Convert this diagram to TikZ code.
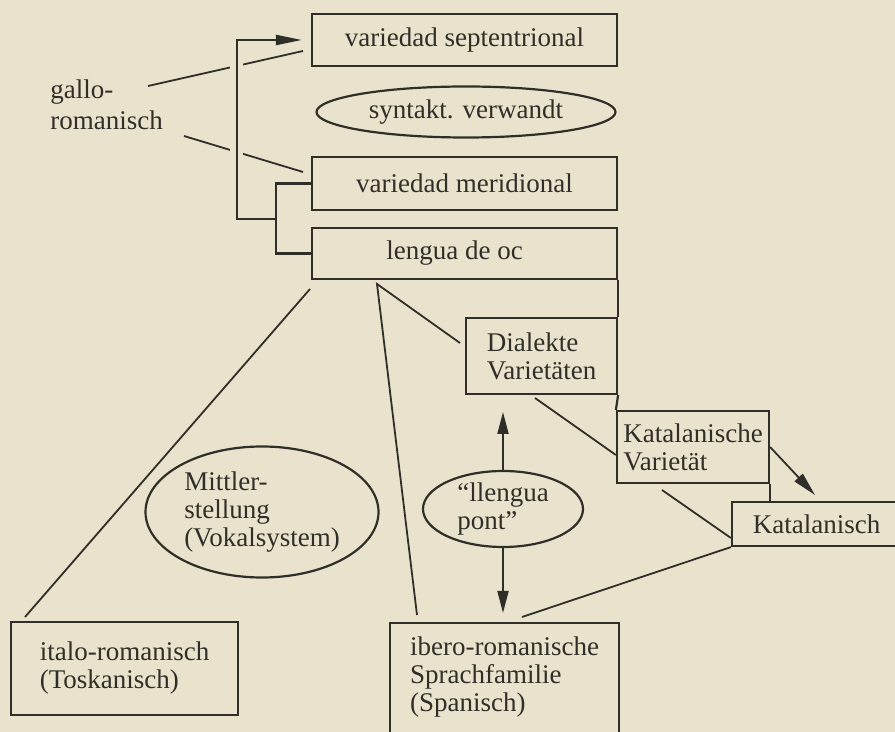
\documentclass[tikz,border=0pt]{standalone}
\usepackage{fontspec}
\setmainfont{Liberation Serif}
\usetikzlibrary{shapes.geometric,arrows.meta,calc}
\definecolor{paper}{RGB}{233,227,205}
\definecolor{ink}{RGB}{48,46,40}
\begin{document}
\begin{tikzpicture}[x=0.5pt,y=-0.5pt,
  font=\fontsize{13.5}{14}\selectfont,
  box/.style={draw=ink, line width=1.1pt, rectangle, inner sep=0pt, text=ink, align=left},
  oval/.style={draw=ink, line width=1.1pt, ellipse, inner sep=0pt, text=ink, align=left},
  conn/.style={draw=ink, line width=0.9pt},
  frame/.style={draw=ink, line width=1.1pt},
  arrtop/.style={frame, -{Triangle[length=13pt,width=5pt]}},
  arrv/.style={conn, -{Triangle[length=11pt,width=5.5pt]}},
  arrk/.style={conn, -{Triangle[length=12pt,width=5.5pt]}}]
\useasboundingbox (0,0) rectangle (895,732);
\clip (0,0) rectangle (895,732);
\fill[paper] (0,0) rectangle (895,732);

% nodes
\node[box, minimum width=152.5pt, minimum height=26pt] (sept) at (464.5,40) {variedad septentrional};
\node[oval, minimum width=149.5pt, minimum height=25.5pt] (synt) at (466,112) {syntakt. verwandt};
\node[box, minimum width=152.5pt, minimum height=26.5pt] (merid) at (464.5,183.5) {variedad meridional};
\node[box, minimum width=152.5pt, minimum height=25.5pt] (lengua) at (464.5,253.5) {lengua de oc\hspace*{10pt}};
\node[box, minimum width=75.5pt, minimum height=38pt] (dial) at (541.5,356) {Dialekte\\Varietäten};
\node[box, minimum width=76pt, minimum height=36pt] (katv) at (693,447) {Katalanische\\Varietät};
\node[box, minimum width=84.5pt, minimum height=22pt] (kat) at (816.5,524) {Katalanisch};
\node[box, minimum width=113.5pt, minimum height=46.5pt] (ital) at (124.5,668.5) {italo-romanisch\\(Toskanisch)};
\node[box, anchor=north west, minimum width=114.5pt, inner ysep=7pt, text depth=60pt, font=\fontsize{13.5}{14}\selectfont] (iber) at (389,622) {ibero-romanische\\Sprachfamilie\\(Spanisch)};
\node[oval, minimum width=116.5pt, minimum height=65.5pt] (mitt) at (262,512) {Mittler-\\stellung\\(Vokalsystem)};
\node[oval, minimum width=80pt, minimum height=38pt] (llen) at (503,509) {“llengua\\pont”};
\node[text=ink, align=left, inner sep=0pt, anchor=west, font=\fontsize{13.5}{15.5}\selectfont] (gallo) at (50,105) {gallo-\\romanisch};

% coordinates
\coordinate (brk) at (276,219);
\coordinate (bend) at (237,219);
\coordinate (g1) at (148,86);
\coordinate (g1e) at (303,51);
\coordinate (g2) at (184,136);
\coordinate (g2e) at (303,172);
\coordinate (lsw) at (310,289);
\coordinate (itop) at (25,617);
\coordinate (lv) at (377,284);
\coordinate (itb) at (417,615);
\coordinate (dl) at (460,343);
\coordinate (upt) at (503,412);
\coordinate (dnt) at (503,613);
\coordinate (d1) at (535,398);
\coordinate (ktip) at (815,495);
\coordinate (kv2) at (662,490);
\coordinate (ib2) at (522,617);

% gallo-romanisch lines, interrupted at the bracket
\draw[conn] (g1) -- (g1e);
\draw[conn] (g2) -- (g2e);
\fill[paper] (230,58) rectangle (243,74);
\fill[paper] (230,144) rectangle (243,160);

% bracket and arrow to septentrional
\draw[frame] (merid.west) -| (brk) |- (lengua.west);
\draw[arrtop] (brk) -- (bend) |- ([xshift=-4.5pt]sept.west);

% staircase
\draw[frame] (lengua.south east) -- (dial.north east);
\draw[frame] (dial.south east) -- (katv.north west);
\draw[frame] (katv.south east) -- (katv.south east |- kat.north);

% lines from lengua de oc
\draw[conn] (lsw) -- (itop);
\draw[conn] (itb) -- (lv) -- (dl);

% llengua pont arrows
\draw[arrv] (llen.north) -- (upt);
\draw[arrv] (llen.south) -- (dnt);

% other connectors
\draw[conn] (d1) -- ([yshift=-4pt]katv.west);
\draw[arrk] (katv.east) -- (ktip);
\draw[conn] (kv2) -- ([yshift=-7pt]kat.west);
\draw[conn] (ib2) -- (kat.south west);
\end{tikzpicture}
\end{document}
